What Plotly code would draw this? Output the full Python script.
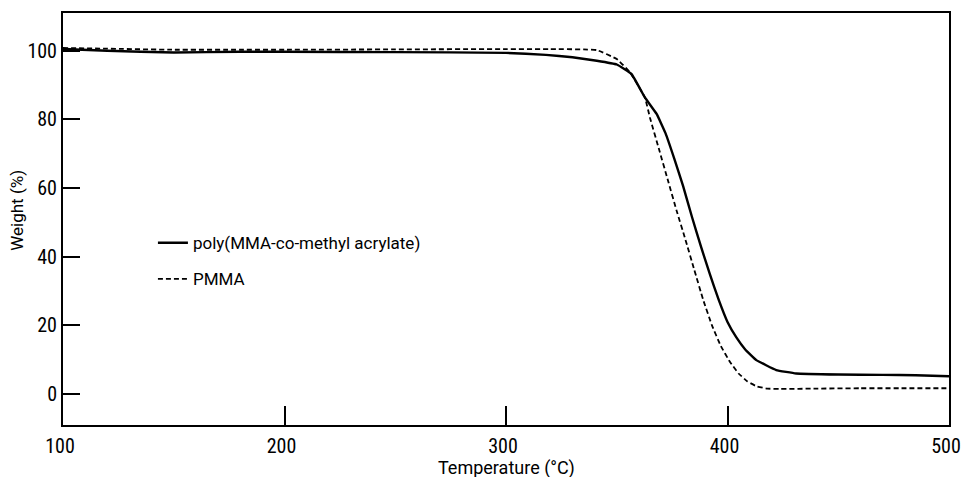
import plotly.graph_objects as go

# Temperature (°C) and weight (%)
temp_copoly = [100, 120, 150, 180, 200, 250, 300, 318, 330, 341, 350, 356.7, 362.7, 368, 372, 376, 380, 384, 388, 392, 396, 400, 404, 408, 413, 422, 431, 450, 470, 485, 500]
weight_copoly = [100.5, 100.0, 99.5, 99.7, 99.7, 99.6, 99.4, 98.8, 98.1, 97.1, 96.0, 93.2, 86.4, 81.6, 76.0, 68.5, 60.5, 51.5, 43.0, 35.0, 27.5, 21.0, 16.5, 13.0, 9.9, 7.0, 6.0, 5.7, 5.6, 5.5, 5.2]

temp_pmma = [100, 120, 150, 180, 200, 250, 300, 320, 335, 341, 350, 356, 362.7, 365, 369, 373, 377, 381, 385, 389, 393, 397, 401, 405, 409, 413, 418, 424, 440, 460, 480, 500]
weight_pmma = [100.8, 100.6, 100.3, 100.3, 100.3, 100.4, 100.5, 100.5, 100.4, 100.2, 97.6, 93.7, 86.4, 80.5, 71.5, 62.5, 53.5, 45.0, 36.2, 27.5, 20.0, 14.0, 9.5, 6.0, 3.7, 2.3, 1.6, 1.5, 1.6, 1.7, 1.7, 1.7]

x_ticks = [100, 200, 300, 400, 500]
y_ticks = [0, 20, 40, 60, 80, 100]
x_title = "Temperature (°C)"
y_title = "Weight (%)"

tick_font = "Roboto Condensed, Liberation Sans, sans-serif"
text_font = "Roboto, Liberation Sans, sans-serif"

fig = go.Figure()
fig.add_trace(go.Scatter(
    x=temp_copoly, y=weight_copoly, mode="lines",
    name="poly(MMA-co-methyl acrylate)", legendgroup="a",
    line=dict(color="black", width=2.4, shape="spline", smoothing=0.3),
))
fig.add_trace(go.Scatter(
    x=temp_pmma, y=weight_pmma, mode="lines",
    name="PMMA", legendgroup="b",
    line=dict(color="black", width=1.8, dash="5px,3px", shape="spline", smoothing=0.3),
))

axis_common = dict(
    showgrid=False, zeroline=False, showline=True, linecolor="black", linewidth=2,
    mirror=True, ticks="inside", tickcolor="black", tickwidth=2, automargin=False,
    tickfont=dict(family=tick_font, size=20, color="black"),
)

fig.update_layout(
    width=962, height=477,
    margin=dict(l=63, r=13, t=13, b=52),
    paper_bgcolor="white", plot_bgcolor="white",
    showlegend=True,
    legend=dict(
        x=0.1015, y=0.485, xanchor="left", yanchor="top",
        bgcolor="rgba(0,0,0,0)", borderwidth=0,
        font=dict(family=text_font, size=17, color="black"),
        traceorder="grouped", tracegroupgap=11,
    ),
    xaxis=dict(
        range=[100, 500], tickvals=x_ticks, ticklen=19, ticklabelstandoff=2,
        ticklabelshift=-3, ticklabeloverflow="allow",
        **axis_common,
    ),
    yaxis=dict(
        range=[-9, 111], tickvals=y_ticks, ticklen=17,
        **axis_common,
    ),
    annotations=[
        dict(text=x_title, xref="paper", yref="paper", x=0.5, y=0, xanchor="center", yanchor="top",
             yshift=-30, showarrow=False, font=dict(family=text_font, size=18, color="black")),
        dict(text=y_title, xref="paper", yref="paper", x=0, y=0.52, xanchor="center", yanchor="middle",
             xshift=-46, textangle=-90, showarrow=False, font=dict(family=text_font, size=17, color="black")),
    ],
)

fig.write_html("out.html")
